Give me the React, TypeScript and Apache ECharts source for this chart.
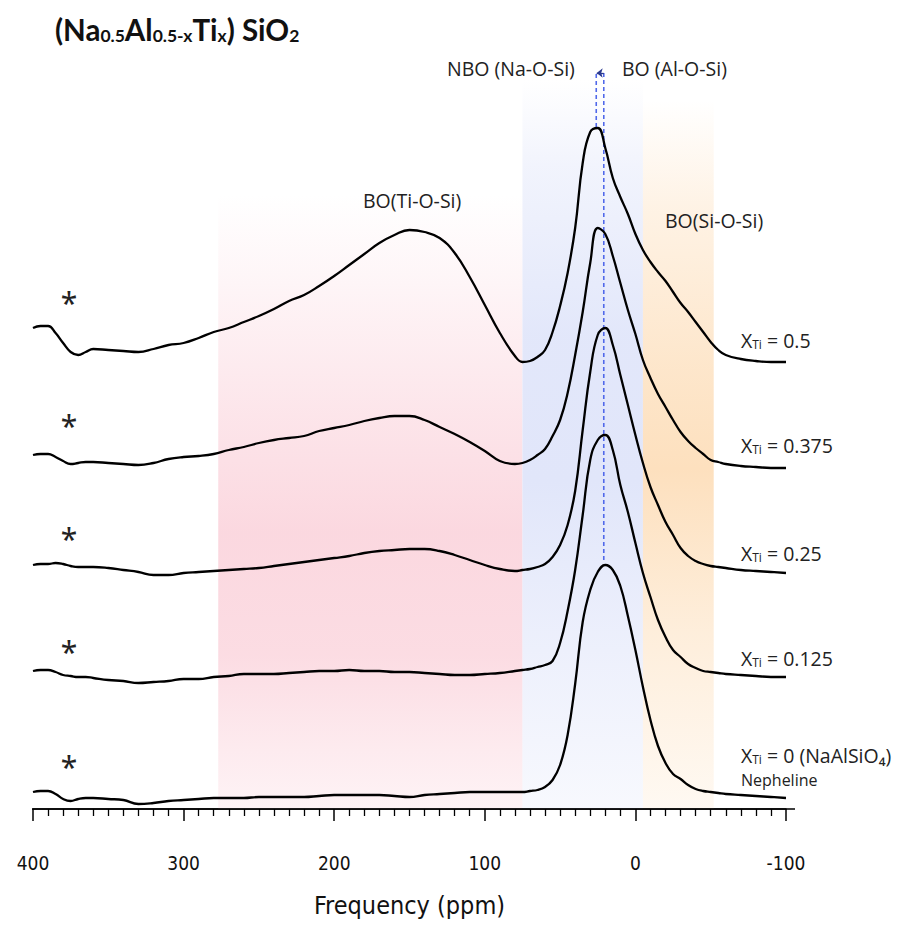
import React, { useEffect, useRef } from "react";
import * as echarts from "echarts";

// chemical shift grid (ppm)
const ppm = [400, 395, 390, 385, 380, 375, 370, 365,
  360, 350, 340, 330, 320, 310, 300, 290, 280, 270, 260, 250, 240, 230, 220, 210, 200, 190, 180, 170, 160, 150, 140, 130, 120, 110, 100, 90, 80,
  75, 70, 65, 60, 55, 50, 45, 40, 35, 30, 25, 20, 15, 10, 5, 0, -5, -10, -15, -20, -25, -30, -35, -40, -45, -50, -55, -60,
  -70, -80, -90, -100];

const seriesNames = ["XTi = 0.5", "XTi = 0.375", "XTi = 0.25", "XTi = 0.125", "XTi = 0"];
const labelValues = ["0.5", "0.375", "0.25", "0.125", "0 (NaAlSiO₄)"];
const mineralName = "Nepheline";

// vertical offsets of the stacked spectra (arbitrary units)
const offsets = [447, 341, 236, 132, 11];

const xTi050 = [34, 36, 36, 29, 19, 10, 7, 10,
  13, 12, 11, 10, 13, 17, 19, 24, 30, 34, 40, 46, 53, 61, 67, 76, 86, 97, 108, 119, 127, 132, 130, 124, 109, 85, 57, 29, 6,
  0, 1, 5, 12, 30, 56, 89, 134, 199, 230, 234, 214, 184, 165, 148, 128, 112, 100, 90, 81, 70, 59, 50, 40, 30, 20, 12, 7,
  3, 1, 0, 0];
const xTi0375 = [13, 14, 14, 11, 7, 4, 5, 6,
  6, 5, 4, 3, 5, 9, 11, 12, 14, 18, 21, 25, 28, 30, 32, 37, 40, 43, 47, 50, 52, 52, 48, 41, 34, 26, 17, 7, 4,
  5, 8, 13, 19, 32, 48, 75, 113, 156, 205, 240, 234, 212, 185, 158, 134, 108, 90, 74, 61, 48, 36, 27, 20, 14, 8, 6, 4,
  2, 1, 0, 0];
const xTi025 = [8, 9, 9, 10, 9, 7, 6, 6,
  6, 5, 3, 1, -2, -2, 0, 1, 2, 3, 4, 5, 7, 9, 11, 13, 15, 17, 20, 22, 23, 24, 24, 22, 18, 13, 8, 4, 2,
  3, 4, 6, 9, 16, 28, 48, 82, 143, 201, 238, 245, 228, 198, 168, 138, 110, 86, 68, 51, 38, 25, 17, 12, 9, 7, 6, 5,
  3, 2, 1, 0];
const xTi0125 = [6, 7, 7, 5, 2, 1, 0, 0,
  -1, -3, -4, -6, -5, -4, -2, -2, 0, 1, 3, 3, 3, 4, 5, 6, 6, 7, 6, 6, 5, 5, 4, 3, 2, 2, 3, 4, 6,
  7, 8, 10, 12, 16, 34, 66, 107, 162, 217, 237, 242, 227, 192, 165, 134, 104, 80, 57, 40, 27, 20, 13, 9, 6, 5, 4, 3,
  2, 1, 0, 0];
const xTi000 = [6, 7, 7, 4, -1, -3, -1, 0,
  0, -1, -2, -6, -5, -3, -2, -1, 0, 0, 0, 1, 1, 1, 1, 2, 3, 3, 3, 3, 2, 1, 3, 4, 5, 6, 6, 6, 6,
  6, 7, 8, 11, 18, 33, 63, 114, 176, 208, 226, 233, 228, 212, 182, 148, 111, 78, 52, 35, 24, 19, 13, 9, 7, 6, 5, 4,
  3, 2, 1, 0];
const intensities = [xTi050, xTi0375, xTi025, xTi0125, xTi000];

// shaded assignment regions: [from ppm, to ppm, top]
const regionPink = [277, 75, 614];
const regionBlue = [75, -5, 729];
const regionOrange = [-5, -52, 709];

// dashed guide lines: [ppm, bottom, top]
const guideNBO = [26, 682, 736];
const guideBO = [21, 249, 736];

const xTicks = [400, 300, 200, 100, 0, -100];

const App = () => {
  const ref = useRef<HTMLDivElement>(null);
  useEffect(() => {
    const chart = echarts.init(ref.current!, null, { renderer: "svg" });
    const grad = (rgb: string, stops: [number, number][]) =>
      new echarts.graphic.LinearGradient(0, 0, 0, 1, stops.map(([offset, a]) => ({ offset, color: `rgba(${rgb},${a})` })));
    const pink = grad("251,214,222", [[0, 0], [0.12, 0.2], [0.35, 0.62], [0.55, 0.95], [0.75, 0.85], [0.9, 0.5], [1, 0.3]]);
    const blue = grad("225,230,250", [[0, 0], [0.12, 0.45], [0.35, 0.95], [0.55, 1], [0.75, 0.65], [1, 0.25]]);
    const orange = grad("253,224,190", [[0, 0], [0.15, 0.4], [0.38, 0.8], [0.52, 1], [0.75, 0.55], [1, 0.2]]);

    const traces: any[] = seriesNames.map((name, k) => ({
      type: "line",
      name,
      data: ppm.map((p, i) => [p, offsets[k] + intensities[k][i]]),
      symbol: "none",
      smooth: 0.45,
      silent: true,
      z: 4,
      lineStyle: { color: "#000", width: 2.3 },
    }));
    traces[0].markArea = {
      silent: true,
      z: 1,
      data: [
        [{ xAxis: regionPink[0], yAxis: 0, itemStyle: { color: pink } }, { xAxis: regionPink[1], yAxis: regionPink[2] }],
        [{ xAxis: regionBlue[0], yAxis: 0, itemStyle: { color: blue } }, { xAxis: regionBlue[1], yAxis: regionBlue[2] }],
        [{ xAxis: regionOrange[0], yAxis: 0, itemStyle: { color: orange } }, { xAxis: regionOrange[1], yAxis: regionOrange[2] }],
      ],
    };
    const guides = [guideNBO, guideBO].map((g) => ({
      type: "line",
      data: [[g[0], g[1]], [g[0], g[2]]],
      symbol: "none",
      silent: true,
      z: 3,
      lineStyle: { color: "#5068ea", width: 1.6, type: [4, 3] },
    }));
    const arrow = {
      type: "line",
      data: [],
      silent: true,
      markLine: {
        silent: true,
        symbol: ["none", "arrow"],
        symbolSize: [7, 6],
        label: { show: false },
        lineStyle: { color: "#2b3a8f", width: 1.3, type: "solid" },
        data: [[{ coord: [guideBO[0], guideBO[2]] }, { coord: [guideNBO[0] - 0.3, guideBO[2]] }]],
      },
    };

    const richLabel = {
      x: { fontFamily: "Open Sans", fontSize: 19.5, lineHeight: 20, verticalAlign: "bottom", fill: "#222" },
      s: { fontFamily: "Open Sans", fontSize: 12, lineHeight: 15, verticalAlign: "bottom", fill: "#222" },
    };
    const labelCenters = [340, 445, 553, 658, 755.5];
    const xLabel = (v: string, i: number) => ({
      type: "text",
      z: 100,
      left: 741,
      top: labelCenters[i] - 10,
      style: { text: `{x|X}{s|Ti}{x| = ${v}}`, fill: "#222", rich: richLabel },
    });
    const ann = (text: string, x: number, y: number) => ({
      type: "text",
      z: 100,
      left: x,
      top: y - 13,
      style: { text, fontFamily: "Open Sans", fontSize: 19.5, fill: "#222" },
    });
    const star = (y: number) => ({
      type: "text",
      z: 100,
      x: 69,
      y: y,
      style: { text: "*", fontFamily: "Noto Sans", fontSize: 30, fill: "#222", align: "center", verticalAlign: "middle" },
    });

    chart.setOption({
      animation: false,
      backgroundColor: "#fff",
      grid: { left: 33, right: 122, top: 40, bottom: 118 },
      xAxis: {
        type: "value",
        min: -100,
        max: 400,
        interval: 100,
        inverse: true,
        position: "bottom",
        offset: 18,
        axisLine: { show: true, lineStyle: { color: "#000", width: 1.5 } },
        axisTick: { show: true, length: 12, lineStyle: { color: "#000", width: 1.5 } },
        minorTick: { show: true, splitNumber: 10, length: 7, lineStyle: { color: "#000", width: 1.3 } },
        splitLine: { show: false },
        minorSplitLine: { show: false },
        axisLabel: {
          margin: 26,
          fontSize: 19,
          color: "#111",
          fontFamily: "Liberation Sans Narrow, DejaVu Sans Condensed, Roboto",
          formatter: (v: number) => (xTicks.includes(v) ? String(v) : ""),
        },
        name: "Frequency (ppm)",
        nameLocation: "middle",
        nameGap: 66,
        nameTextStyle: { fontSize: 25, color: "#111", fontFamily: "Liberation Sans Narrow, DejaVu Sans Condensed, Roboto" },
      },
      yAxis: { type: "value", min: 0, max: 769, show: false },
      series: [...traces, ...guides, arrow],
      graphic: [
        { type: "line", z: 100, silent: true, shape: { x1: 32, y1: 809, x2: 795, y2: 809 }, style: { stroke: "#000", lineWidth: 1.6 } },
        {
          type: "text",
          z: 100,
          left: 55,
          top: 14,
          style: {
            text: "{m|(Na}{s|0.5}{m|Al}{s|0.5-x}{m|Ti}{s|x}{m|) SiO}{s|2}",
            rich: {
              m: { fontFamily: "Lato", fontWeight: "bold", fontSize: 29.5, lineHeight: 36, verticalAlign: "bottom", fill: "#111" },
              s: { fontFamily: "Lato", fontWeight: "bold", fontSize: 17.5, lineHeight: 24, verticalAlign: "bottom", fill: "#111" },
            },
          },
        },
        ann("NBO (Na-O-Si)", 447, 71),
        ann("BO (Al-O-Si)", 622, 71),
        ann("BO(Ti-O-Si)", 363, 203),
        ann("BO(Si-O-Si)", 665, 223),
        ...labelValues.map((v, i) => xLabel(v, i)),
        {
          type: "text",
          z: 100,
          left: 741,
          top: 772,
          style: { text: mineralName, fontFamily: "Open Sans", fontSize: 16, lineHeight: 16, fill: "#222" },
        },
        ...[302, 425, 538, 651, 766].map(star),
      ],
    });
    return () => chart.dispose();
  }, []);
  return <div ref={ref} style={{ position: "absolute", left: 0, top: 0, width: 908, height: 927, background: "#fff" }} />;
};

export default App;
